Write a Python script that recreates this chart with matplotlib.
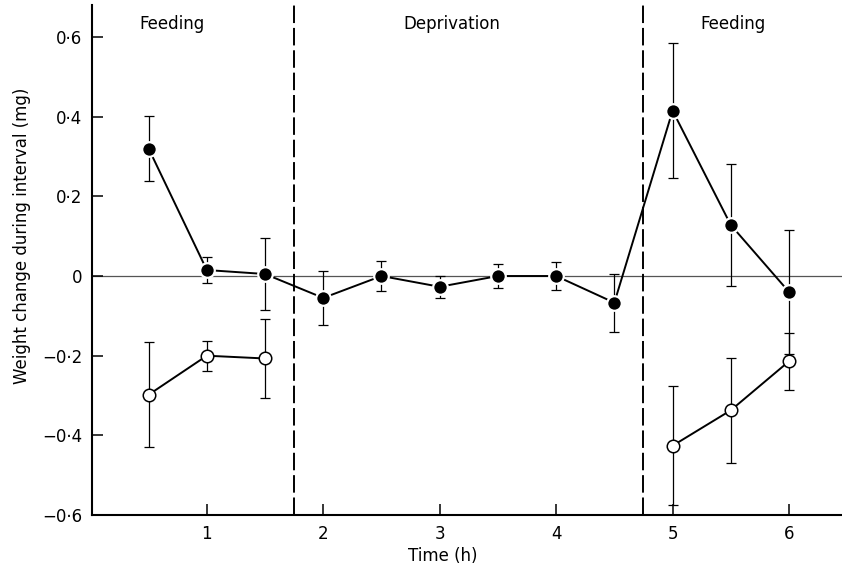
import numpy as np
import matplotlib
matplotlib.use('Agg')
import matplotlib.pyplot as plt

# Data
time_fed = [0.5, 1, 1.5, 2, 2.5, 3, 3.5, 4, 4.5, 5, 5.5, 6]
change_fed = [0.32, 0.015, 0.005, -0.055, 0.0, -0.027, 0.0, 0.0, -0.067, 0.415, 0.128, -0.04]
sem_fed = [0.082, 0.032, 0.09, 0.068, 0.037, 0.027, 0.029, 0.036, 0.073, 0.17, 0.153, 0.155]

# Open circles: two separate feeding periods
time_open_a = [0.5, 1, 1.5]
change_open_a = [-0.298, -0.2, -0.207]
sem_open_a = [0.132, 0.038, 0.1]
time_open_b = [5, 5.5, 6]
change_open_b = [-0.426, -0.337, -0.214]
sem_open_b = [0.15, 0.132, 0.072]

phase_bounds = [1.75, 4.75]
phase_labels = ['Feeding', 'Deprivation', 'Feeding']
phase_label_x = [0.70, 3.1, 5.52]

yticks = [-0.6, -0.4, -0.2, 0, 0.2, 0.4, 0.6]
ytick_labels = ['\u22120\u00b76', '\u22120\u00b74', '\u22120\u00b72', '0', '0\u00b72', '0\u00b74', '0\u00b76']
xticks = [1, 2, 3, 4, 5, 6]

plt.rcParams['font.family'] = 'DejaVu Sans'

fig = plt.figure(figsize=(8.42, 5.66), dpi=100)
ax = fig.add_axes([0.109, 0.090, 0.891, 0.901])

xmin, xmax = 0.012, 6.455
ymin, ymax = -0.6, 0.68

# zero line and phase boundaries
ax.axhline(0, color='#555555', lw=0.9, zorder=1)
for xb in phase_bounds:
    ax.axvline(xb, color='black', lw=1.4, dashes=(9, 2.5), zorder=1)

# filled circles
ax.errorbar(time_fed, change_fed, yerr=sem_fed, fmt='none', ecolor='black',
            elinewidth=0.9, capsize=3.5, capthick=0.9, zorder=2)
ax.plot(time_fed, change_fed, color='black', lw=1.4, zorder=3)
ax.plot(time_fed, change_fed, 'o', ms=10.5, mfc='black', mec='white', mew=1.6, zorder=4)

# open circles
for tx, cy, se in [(time_open_a, change_open_a, sem_open_a),
                   (time_open_b, change_open_b, sem_open_b)]:
    ax.errorbar(tx, cy, yerr=se, fmt='none', ecolor='black',
                elinewidth=0.9, capsize=3.5, capthick=0.9, zorder=2)
    ax.plot(tx, cy, color='black', lw=1.4, zorder=3)
    ax.plot(tx, cy, 'o', ms=9, mfc='white', mec='black', mew=1.1, zorder=4)

for lx, lab in zip(phase_label_x, phase_labels):
    ax.text(lx, 0.632, lab, ha='center', va='center', fontsize=12)

ax.set_xlim(xmin, xmax)
ax.set_ylim(ymin, ymax)
ax.set_xticks(xticks)
ax.set_xticklabels([str(t) for t in xticks])
ax.set_yticks(yticks)
ax.set_yticklabels(ytick_labels)
ax.tick_params(direction='in', length=8, width=1.1, labelsize=12, pad=7)

for side in ['top', 'right']:
    ax.spines[side].set_visible(False)
for side in ['left', 'bottom']:
    ax.spines[side].set_linewidth(1.5)

ax.set_xlabel('Time (h)', fontsize=12, labelpad=3)
ax.set_ylabel('Weight change during interval (mg)', fontsize=12, labelpad=8)
# labels sit off-centre in the original
ax.xaxis.label.set_x((3.03 - xmin) / (xmax - xmin))
ax.yaxis.label.set_y((0.1 - ymin) / (ymax - ymin))

fig.savefig('out.png', dpi=100)
